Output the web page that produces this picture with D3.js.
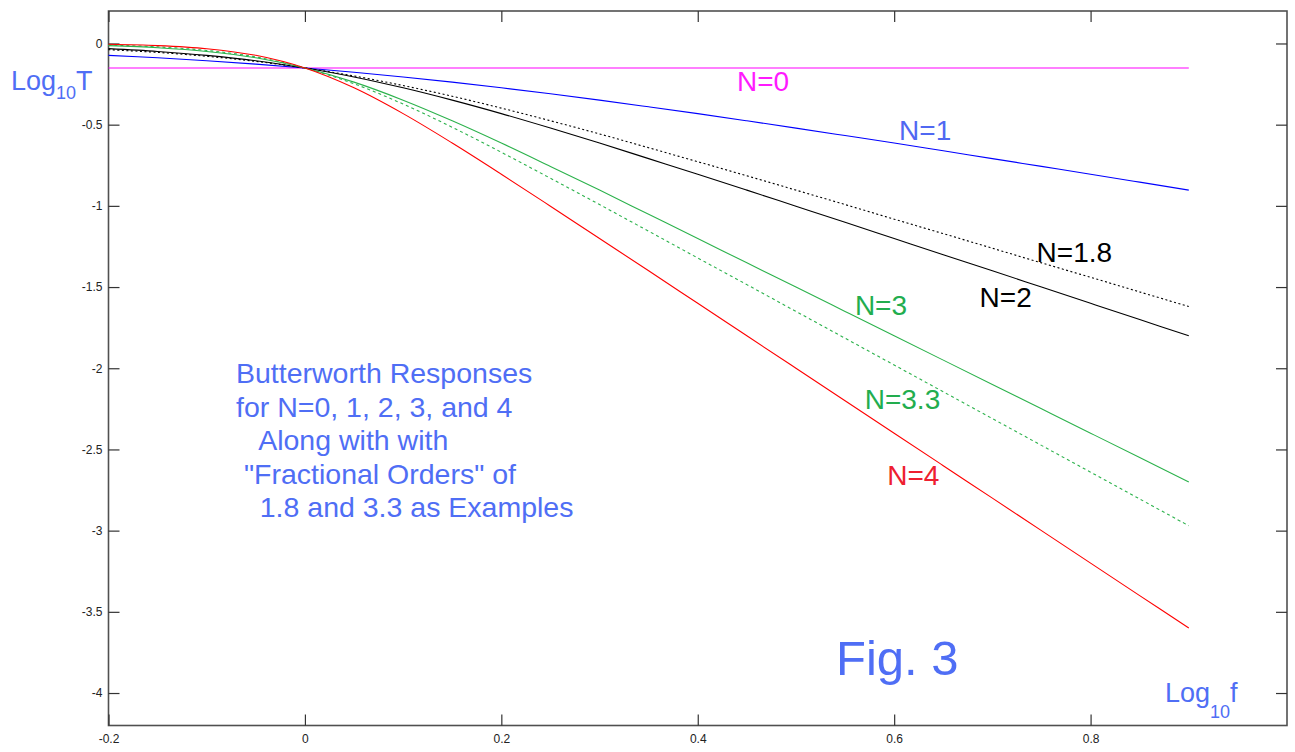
<!DOCTYPE html>
<html>
<head>
<meta charset="utf-8">
<script src="https://cdn.jsdelivr.net/npm/d3@7"></script>
<style>
  html, body { margin: 0; padding: 0; background: #fff; }
  svg { display: block; font-family: "Liberation Sans", Arial, sans-serif; }
</style>
</head>
<body>
<svg id="chart" width="1295" height="752"></svg>
<script>
// log10(f) sample positions shared by every response curve
const logF = [-0.2, -0.15, -0.1, -0.05, 0, 0.05, 0.1, 0.15, 0.2, 0.25, 0.3, 0.35,
              0.4, 0.45, 0.5, 0.55, 0.6, 0.65, 0.7, 0.75, 0.8, 0.85, 0.9];

// log10(T) for each filter order
const tN0  = [-0.151, -0.151, -0.151, -0.151, -0.151, -0.151, -0.151, -0.151, -0.151, -0.151, -0.151, -0.151,
              -0.151, -0.151, -0.151, -0.151, -0.151, -0.151, -0.151, -0.151, -0.151, -0.151, -0.151];
const tN1  = [-0.073, -0.088, -0.106, -0.127, -0.151, -0.177, -0.206, -0.238, -0.273, -0.310, -0.349, -0.390,
              -0.432, -0.476, -0.521, -0.567, -0.613, -0.661, -0.709, -0.757, -0.805, -0.854, -0.903];
const tN18 = [-0.038, -0.055, -0.079, -0.110, -0.151, -0.200, -0.259, -0.325, -0.398, -0.476, -0.557, -0.642,
              -0.728, -0.815, -0.903, -0.992, -1.082, -1.171, -1.261, -1.351, -1.440, -1.530, -1.620];
const tN2  = [-0.032, -0.049, -0.073, -0.106, -0.151, -0.206, -0.273, -0.349, -0.432, -0.521, -0.613, -0.709,
              -0.805, -0.903, -1.002, -1.101, -1.201, -1.301, -1.400, -1.500, -1.600, -1.700, -1.800];
const tN3  = [-0.013, -0.026, -0.049, -0.088, -0.151, -0.238, -0.349, -0.476, -0.613, -0.757, -0.903, -1.052,
              -1.201, -1.351, -1.500, -1.650, -1.800, -1.950, -2.100, -2.250, -2.400, -2.550, -2.700];
const tN33 = [-0.010, -0.021, -0.043, -0.083, -0.151, -0.248, -0.373, -0.516, -0.670, -0.830, -0.992, -1.156,
              -1.321, -1.485, -1.650, -1.815, -1.980, -2.145, -2.310, -2.475, -2.640, -2.805, -2.970];
const tN4  = [-0.005, -0.013, -0.032, -0.073, -0.151, -0.273, -0.432, -0.613, -0.805, -1.002, -1.201, -1.400,
              -1.600, -1.800, -2.000, -2.200, -2.400, -2.600, -2.800, -3.000, -3.200, -3.400, -3.600];

// axis tick values and their printed labels
const xTicks = [-0.2, 0, 0.2, 0.4, 0.6, 0.8];
const xTickLabels = ["-0.2", "0", "0.2", "0.4", "0.6", "0.8"];
const yTicks = [0, -0.5, -1, -1.5, -2, -2.5, -3, -3.5, -4];
const yTickLabels = ["0", "-0.5", "-1", "-1.5", "-2", "-2.5", "-3", "-3.5", "-4"];

const series = [
  { name: "N=0",   values: tN0,  color: "#ff00ff", dash: null },
  { name: "N=1",   values: tN1,  color: "#0000ff", dash: null },
  { name: "N=1.8", values: tN18, color: "#000000", dash: "2,2.5" },
  { name: "N=2",   values: tN2,  color: "#000000", dash: null },
  { name: "N=3",   values: tN3,  color: "#2cb24c", dash: null },
  { name: "N=3.3", values: tN33, color: "#2cb24c", dash: "3,3" },
  { name: "N=4",   values: tN4,  color: "#ff0000", dash: null }
];

// curve labels, anchored in data coordinates (left edge, baseline)
const curveLabels = [
  { text: "N=0",   x: 0.440, y: -0.295, color: "#ff1aff" },
  { text: "N=1",   x: 0.605, y: -0.597, color: "#5068f2" },
  { text: "N=1.8", x: 0.745, y: -1.348, color: "#000000" },
  { text: "N=2",   x: 0.687, y: -1.625, color: "#000000" },
  { text: "N=3",   x: 0.560, y: -1.674, color: "#22ad4e" },
  { text: "N=3.3", x: 0.570, y: -2.252, color: "#22ad4e" },
  { text: "N=4",   x: 0.593, y: -2.720, color: "#ee2030" }
];

const noteLines = [
  "Butterworth Responses",
  "for N=0, 1, 2, 3, and 4",
  "   Along with with",
  " \"Fractional Orders\" of",
  "   1.8 and 3.3 as Examples"
];

const textBlue = "#4f6ef5";

const svg = d3.select("#chart");
const plotLeft = 108.5, plotRight = 1287, plotTop = 11, plotBottom = 725.5;

const x = d3.scaleLinear().domain([-0.2, 1.0]).range([plotLeft, plotRight]);
const y = d3.scaleLinear().domain([-4.2, 0.2]).range([plotBottom, plotTop]);

// frame
svg.append("rect")
  .attr("x", plotLeft).attr("y", plotTop)
  .attr("width", plotRight - plotLeft).attr("height", plotBottom - plotTop)
  .attr("fill", "none").attr("stroke", "#505050").attr("stroke-width", 1.6);

// inward-pointing ticks on all four sides
const tickLen = 11;
const fmtX = d => xTickLabels[xTicks.indexOf(d)];
const fmtY = d => yTickLabels[yTicks.indexOf(d)];

const styleAxis = g => {
  g.select(".domain").remove();
  g.selectAll(".tick line").attr("stroke", "#333").attr("stroke-width", 1.2);
  g.selectAll(".tick text")
    .attr("fill", "#222")
    .style("font-size", "12px")
    .style("font-family", "\"Liberation Sans\", Arial, sans-serif");
};

svg.append("g")
  .attr("transform", `translate(0,${plotBottom})`)
  .call(d3.axisBottom(x).tickValues(xTicks).tickFormat(fmtX).tickSizeInner(-tickLen).tickPadding(9))
  .call(styleAxis);

svg.append("g")
  .attr("transform", `translate(0,${plotTop})`)
  .call(d3.axisTop(x).tickValues(xTicks).tickFormat("").tickSizeInner(-tickLen))
  .call(styleAxis);

svg.append("g")
  .attr("transform", `translate(${plotLeft},0)`)
  .call(d3.axisLeft(y).tickValues(yTicks).tickFormat(fmtY).tickSizeInner(-tickLen).tickPadding(6))
  .call(styleAxis);

svg.append("g")
  .attr("transform", `translate(${plotRight},0)`)
  .call(d3.axisRight(y).tickValues(yTicks).tickFormat("").tickSizeInner(-tickLen))
  .call(styleAxis);

// response curves
const line = d3.line()
  .x((d, i) => x(logF[i]))
  .y(d => y(d))
  .curve(d3.curveCatmullRom.alpha(0.5));

svg.append("g")
  .selectAll("path")
  .data(series)
  .join("path")
  .attr("d", s => line(s.values))
  .attr("fill", "none")
  .attr("stroke", s => s.color)
  .attr("stroke-width", 1.1)
  .attr("stroke-dasharray", s => s.dash);

// curve labels
svg.append("g")
  .selectAll("text")
  .data(curveLabels)
  .join("text")
  .attr("x", d => x(d.x))
  .attr("y", d => y(d.y))
  .attr("fill", d => d.color)
  .style("font-size", "28px")
  .text(d => d.text);

// axis titles
const yTitle = svg.append("text")
  .attr("x", 11).attr("y", 90)
  .attr("fill", textBlue)
  .style("font-size", "27px");
yTitle.append("tspan").text("Log");
yTitle.append("tspan").attr("dy", 9).style("font-size", "18px").text("10");
yTitle.append("tspan").attr("dy", -9).text("T");

const xTitle = svg.append("text")
  .attr("x", 1165).attr("y", 702)
  .attr("fill", textBlue)
  .style("font-size", "27px");
xTitle.append("tspan").text("Log");
xTitle.append("tspan").attr("dy", 16).style("font-size", "18px").text("10");
xTitle.append("tspan").attr("dy", -16).text("f");

// explanatory note
svg.append("text")
  .attr("fill", textBlue)
  .style("font-size", "28.5px")
  .style("white-space", "pre")
  .attr("xml:space", "preserve")
  .selectAll("tspan")
  .data(noteLines)
  .join("tspan")
  .attr("x", 236)
  .attr("y", (d, i) => 383 + i * 33.5)
  .text(d => d);

// figure number
svg.append("text")
  .attr("x", 836).attr("y", 675)
  .attr("fill", textBlue)
  .style("font-size", "49px")
  .text("Fig. 3");
</script>
</body>
</html>
